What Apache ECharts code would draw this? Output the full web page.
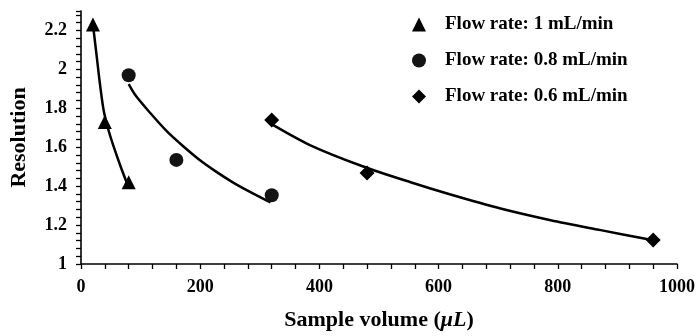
<!DOCTYPE html>
<html>
<head>
<meta charset="utf-8">
<script src="https://cdn.jsdelivr.net/npm/echarts@6/dist/echarts.min.js"></script>
<style>
  html, body { margin: 0; padding: 0; background: #fff; }
  #chart { width: 700px; height: 336px; }
</style>
</head>
<body>
<div id="chart"></div>
<script>
// measured points: [sample volume (uL), resolution]
const flow1 = [[20, 2.23], [40, 1.73], [80, 1.42]];
const flow08 = [[80, 1.97], [160, 1.535], [320, 1.353]];
const flow06 = [[320, 1.74], [480, 1.467], [960, 1.123]];

// trend curves
const fit1 = [[21, 2.206], [27, 2.05], [32, 1.92], [38, 1.79], [45, 1.70], [53, 1.62], [66, 1.505], [79, 1.40]];
const fit08 = [[80, 1.924], [92, 1.864], [115, 1.78], [143, 1.685], [171, 1.606], [198, 1.537],
               [226, 1.476], [254, 1.421], [282, 1.373], [318, 1.316]];
const fit06 = [[322, 1.715], [385, 1.61], [470, 1.505], [553, 1.42], [620, 1.357],
               [704, 1.285], [788, 1.225], [872, 1.174], [958, 1.123]];

const legendNames = ['Flow rate: 1 mL/min', 'Flow rate: 0.8 mL/min', 'Flow rate: 0.6 mL/min'];

const serif = '"Liberation Serif", "Times New Roman", serif';
const ink = '#000';

const chart = echarts.init(document.getElementById('chart'));

// every tick drawn at the same length, labels only on the major ones
const axisCommon = {
  axisLine: { show: true, lineStyle: { color: ink, width: 1.6 } },
  axisTick: { show: true, inside: false, length: 5, lineStyle: { color: ink, width: 1.3 } },
  splitLine: { show: false },
};

function fitLine(data) {
  return {
    type: 'line', data: data, smooth: 0.3, showSymbol: false, silent: true,
    lineStyle: { color: ink, width: 2.5 }, z: 1,
  };
}

chart.setOption({
  animation: false,
  grid: { left: 80, right: 23, top: 11, bottom: 70 },
  legend: {
    data: legendNames,
    orient: 'vertical',
    left: 407, top: 10,
    itemGap: 17,
    itemWidth: 14, itemHeight: 14,
    textStyle: { fontFamily: serif, fontWeight: 'bold', fontSize: 19, color: ink, padding: [0, 0, 0, 14] },
  },
  xAxis: Object.assign({
    type: 'value', min: 0, max: 1000, interval: 40,
    name: 'Sample volume ({i|μL})',
    nameLocation: 'middle', nameGap: 45,
    nameTextStyle: {
      fontFamily: serif, fontWeight: 'bold', fontSize: 22, color: ink,
      rich: { i: { fontFamily: serif, fontWeight: 'bold', fontStyle: 'italic', fontSize: 22, color: ink } },
    },
    axisLabel: {
      fontFamily: serif, fontWeight: 'bold', fontSize: 18, color: ink, margin: 14,
      formatter: v => (Math.round(v) % 200 === 0 ? String(Math.round(v)) : ''),
    },
  }, axisCommon),
  yAxis: Object.assign({
    type: 'value', min: 1, max: 2.3, interval: 0.04,
    name: 'Resolution',
    nameLocation: 'middle', nameGap: 51, nameRotate: 90,
    nameTextStyle: { fontFamily: serif, fontWeight: 'bold', fontSize: 22, color: ink },
    axisLabel: {
      fontFamily: serif, fontWeight: 'bold', fontSize: 18, color: ink, margin: 14,
      formatter: v => {
        const k = Math.round(v * 100);
        return (k % 20 === 0 && k <= 220) ? String(k / 100) : '';
      },
    },
  }, axisCommon),
  series: [
    fitLine(fit1),
    fitLine(fit08),
    fitLine(fit06),
    {
      name: legendNames[0], type: 'scatter', data: flow1,
      symbol: 'triangle', symbolSize: 14, itemStyle: { color: ink, opacity: 1 }, z: 3,
    },
    {
      name: legendNames[1], type: 'scatter', data: flow08,
      symbol: 'circle', symbolSize: 14, itemStyle: { color: '#141414', opacity: 1 }, z: 3,
    },
    {
      name: legendNames[2], type: 'scatter', data: flow06,
      symbol: 'diamond', symbolSize: 15, itemStyle: { color: ink, opacity: 1 }, z: 3,
    },
  ],
});
</script>
</body>
</html>
